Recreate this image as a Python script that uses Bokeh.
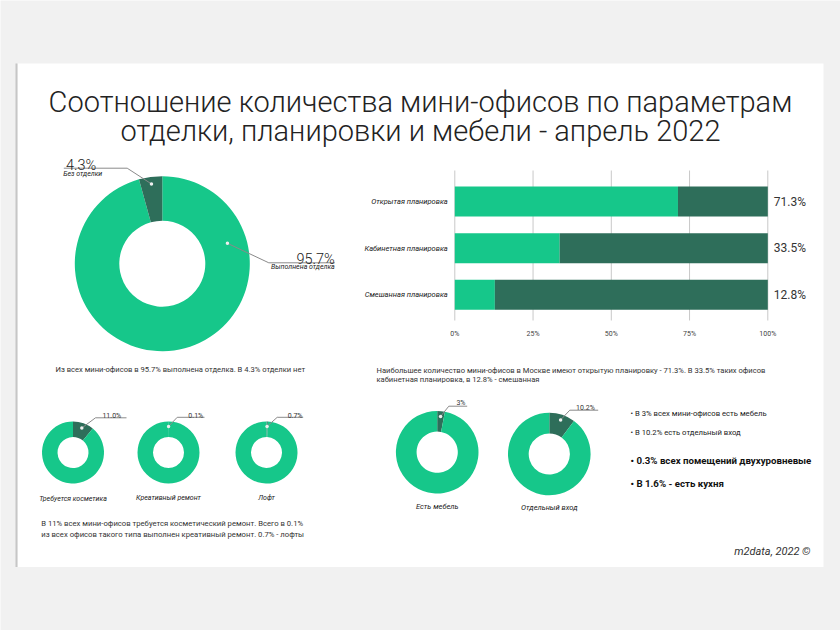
import math
from bokeh.plotting import figure
from bokeh.models import Range1d
from bokeh.core.properties import value
from bokeh.embed import file_html
from bokeh.resources import INLINE

# ---------------- data ----------------
title_lines = ["Соотношение количества мини-офисов по параметрам",
               "отделки, планировки и мебели - апрель 2022"]

finish_labels = ["Выполнена отделка", "Без отделки"]
finish_values = [95.7, 4.3]

plan_categories = ["Открытая планировка", "Кабинетная планировка", "Смешанная планировка"]
plan_values = [71.3, 33.5, 12.8]
pct_ticks = [0, 25, 50, 75, 100]

repair_labels = ["Требуется косметика", "Креативный ремонт", "Лофт"]
repair_values = [11.0, 0.1, 0.7]

feature_labels = ["Есть мебель", "Отдельный вход"]
feature_values = [3, 10.2]

caption_finish = ["Из всех мини-офисов в 95.7% выполнена отделка. В 4.3% отделки нет"]
caption_plan = ["Наибольшее количество мини-офисов в Москве имеют открытую планировку - 71.3%. В 33.5% таких офисов",
                "кабинетная планировка, в 12.8% - смешанная"]
caption_repair = ["В 11% всех мини-офисов требуется косметический ремонт. Всего в 0.1%",
                  "из всех офисов такого типа выполнен креативный ремонт. 0.7% - лофты"]
bullets_small = ["• В 3% всех мини-офисов есть мебель", "• В 10.2% есть отдельный вход"]
bullets_bold = ["• 0.3% всех помещений двухуровневые", "• В 1.6% - есть кухня"]
source_text = ["m2data, 2022 ©"]

# ---------------- style / layout ----------------
W, H = 840, 630
LIGHT = "#16c78a"
DARK = "#2e6e5a"
PAGE = "#f1f1f1"
INK = "#222222"
TXT = "#333333"
LEAD = "#8a8a8a"
FONT = "Roboto"
THIN = "Roboto Light, Roboto"
CARD_L, CARD_R, CARD_T, CARD_B = 17, 823, 63, 566.5

# bar panel placement (pixels)
BAR_X0, BAR_X1 = 454.3, 767.3       # where 0% and 100% fall
BAR_TOP, BAR_BOT = 170, 320          # grid extent
BAR_C0, BAR_STEP, BAR_H = 201, 46.65, 30

pmax = pct_ticks[-1]
px_per_pct = (BAR_X1 - BAR_X0) / pmax
pct_range = Range1d(-BAR_X0 / px_per_pct, (W - BAR_X0) / px_per_pct)
cat_range = Range1d((H - BAR_C0) / BAR_STEP, (0 - BAR_C0) / BAR_STEP)

p = figure(width=W, height=H, x_range=Range1d(0, W), y_range=Range1d(H, 0),
           extra_x_ranges={"pct": pct_range}, extra_y_ranges={"cat": cat_range},
           output_backend="svg", toolbar_location=None, min_border=0,
           x_axis_location=None, y_axis_location=None, outline_line_color=None,
           background_fill_color=PAGE, border_fill_color=PAGE)
p.grid.visible = False

# card
p.quad(left=[CARD_L], right=[CARD_R], top=[CARD_T], bottom=[CARD_B], fill_color="white", line_color=None)
p.segment(x0=[CARD_L - 1], x1=[CARD_L - 1], y0=[CARD_T], y1=[CARD_B], line_color="#c6c6c6", line_width=2)

# title
p.text(x=[420, 420], y=[101.7, 130], text=title_lines, text_align="center",
       text_baseline="alphabetic", text_font=value(THIN), text_font_size="29px", text_color=INK)


def donut(cx, cy, r_out, r_in, vals, colors):
    total = sum(vals)
    cum = 0.0
    starts, ends = [], []
    for v in vals:
        a0 = cum / total * 360.0
        cum += v
        a1 = cum / total * 360.0
        starts.append(90.0 - a1)   # clockwise from 12 o'clock
        ends.append(90.0 - a0)
    p.annular_wedge(x=[cx] * len(vals), y=[cy] * len(vals), inner_radius=r_in, outer_radius=r_out,
                    inner_radius_units="screen", outer_radius_units="screen",
                    start_angle=starts, end_angle=ends, start_angle_units="deg", end_angle_units="deg",
                    fill_color=colors, line_color=None)


def slice_point(cx, cy, r, vals, idx, frac):
    total = sum(vals)
    before = sum(vals[:idx])
    mid = (before + vals[idx] / 2.0) / total * 2 * math.pi
    return cx + frac * r * math.sin(mid), cy - frac * r * math.cos(mid)


def leader(dots, knees, ends):
    xs = [[d[0], k[0], e] for d, k, e in zip(dots, knees, ends)]
    ys = [[d[1], k[1], k[1]] for d, k in zip(dots, knees)]
    p.multi_line(xs=xs, ys=ys, line_color=LEAD, line_width=1)
    p.scatter(x=[d[0] for d in dots], y=[d[1] for d in dots], size=3.5,
              fill_color="#eeeeee", line_color=None)


# ---------------- big donut ----------------
BCX, BCY, BRO, BRI = 161.8, 263.2, 87.5, 43
donut(BCX, BCY, BRO, BRI, finish_values, [LIGHT, DARK])
d_dark = slice_point(BCX, BCY, BRO, finish_values, 1, 0.92)
a_light = math.radians(72.6)
d_light = (BCX + 0.78 * BRO * math.sin(a_light), BCY - 0.78 * BRO * math.cos(a_light))
leader([d_light, d_dark], [(268.3, 262.3), (126.7, 167.7)], [334.3, 63.3])
p.text(x=[334.3, 65.5], y=[259, 165], text=[f"{v:.1f}%" for v in finish_values],
       text_align=["right", "left"], text_baseline="alphabetic", text_font=value(THIN),
       text_font_size="14.5px", text_color=INK)
p.text(x=[334.3, 62.7], y=[266.7, 173.3], text=finish_labels, text_align=["right", "left"],
       text_baseline="middle", text_font=value(FONT), text_font_style="italic",
       text_font_size="7px", text_color=INK)
p.text(x=[55], y=[368.7], text=caption_finish, text_align="left", text_baseline="middle",
       text_font=value(FONT), text_font_size="7.6px", text_color=TXT)

# ---------------- stacked bars ----------------
ypos = list(range(len(plan_categories)))
grid_top = (BAR_TOP - BAR_C0) / BAR_STEP
grid_bot = (BAR_BOT - BAR_C0) / BAR_STEP
p.segment(x0=pct_ticks, x1=pct_ticks, y0=[grid_top] * len(pct_ticks), y1=[grid_bot] * len(pct_ticks),
          x_range_name="pct", y_range_name="cat", line_color="#c8c8c8", line_width=1)
bh = BAR_H / BAR_STEP
p.hbar(y=ypos, left=0, right=plan_values, height=bh, fill_color=LIGHT, line_color=None,
       x_range_name="pct", y_range_name="cat")
p.hbar(y=ypos, left=plan_values, right=[pmax] * len(ypos), height=bh, fill_color=DARK, line_color=None,
       x_range_name="pct", y_range_name="cat")
# category labels (left axis)
p.text(x=[0] * len(ypos), y=ypos, text=plan_categories, x_offset=-7, text_align="right",
       text_baseline="middle", text_font=value(FONT), text_font_style="italic",
       text_font_size="7.5px", text_color=INK, x_range_name="pct", y_range_name="cat")
# value labels (right axis)
p.text(x=[pmax] * len(ypos), y=ypos, text=[f"{v:.1f}%" for v in plan_values], x_offset=6,
       text_align="left", text_baseline="middle", text_font=value(FONT),
       text_font_size="12px", text_color=TXT, x_range_name="pct", y_range_name="cat")
# x tick labels
p.text(x=pct_ticks, y=[grid_bot] * len(pct_ticks), text=[f"{t}%" for t in pct_ticks], y_offset=13,
       text_align="center", text_baseline="middle", text_font=value(FONT),
       text_font_size="7px", text_color="#444444", x_range_name="pct", y_range_name="cat")
p.text(x=[376, 376], y=[369.7, 378.7], text=caption_plan, text_align="left", text_baseline="middle",
       text_font=value(FONT), text_font_size="7.6px", text_color=TXT)

# ---------------- small donuts (repair type) ----------------
repair_cx = [72.5, 168, 266]
RCY, RRO, RRI = 452, 31, 15.5
r_dots = []
for cx, v in zip(repair_cx, repair_values):
    vals = [v, 100 - v]
    donut(cx, RCY, RRO, RRI, vals, [DARK, LIGHT])
    r_dots.append(slice_point(cx, RCY, RRO, vals, 0, 0.84))
leader(r_dots, [(95, 417.3), (176.7, 416.8), (276.7, 416.8)], [126, 204, 302.7])
p.text(x=[120.7, 202.7, 302], y=[415, 415, 415], text=[f"{v:.1f}%" for v in repair_values],
       text_align="right", text_baseline="alphabetic", text_font=value(FONT),
       text_font_size="7px", text_color=TXT)
p.text(x=repair_cx, y=[498, 497.3, 497.3], text=repair_labels, text_align="center",
       text_baseline="middle", text_font=value(FONT), text_font_style="italic",
       text_font_size="7px", text_color=INK)
p.text(x=[40.7, 40.7], y=[523.3, 534], text=caption_repair, text_align="left", text_baseline="middle",
       text_font=value(FONT), text_font_size="7.7px", text_color=TXT)

# ---------------- medium donuts (features) ----------------
feature_cx = [436.7, 548.8]
feature_cy = [451.7, 453.5]
FRO, FRI = 41.3, 20.6
f_dots = []
for cx, cy, v in zip(feature_cx, feature_cy, feature_values):
    vals = [v, 100 - v]
    donut(cx, cy, FRO, FRI, vals, [DARK, LIGHT])
    f_dots.append(slice_point(cx, cy, FRO, vals, 0, 0.87))
leader(f_dots, [(448.3, 405.7), (569.3, 409.7)], [466.7, 597.7])
p.text(x=[465, 594.3], y=[402.3, 407], text=[f"{v:g}%" for v in feature_values],
       text_align="right", text_baseline="alphabetic", text_font=value(FONT),
       text_font_size="7px", text_color=TXT)
p.text(x=feature_cx, y=[506, 507], text=feature_labels, text_align="center",
       text_baseline="middle", text_font=value(FONT), text_font_style="italic",
       text_font_size="7.5px", text_color=INK)

# bullets and source
p.text(x=[630, 630], y=[413.3, 431.7], text=bullets_small, text_align="left", text_baseline="middle",
       text_font=value(FONT), text_font_size="7.7px", text_color=INK)
p.text(x=[630, 630], y=[460, 483.3], text=bullets_bold, text_align="left", text_baseline="middle",
       text_font=value(FONT), text_font_style="bold", text_font_size="9.7px", text_color="#111111")
p.text(x=[810], y=[550.7], text=source_text, text_align="right", text_baseline="middle",
       text_font=value(FONT), text_font_style="italic", text_font_size="11px", text_color=TXT)

open("out.html", "w").write(file_html(p, INLINE))
